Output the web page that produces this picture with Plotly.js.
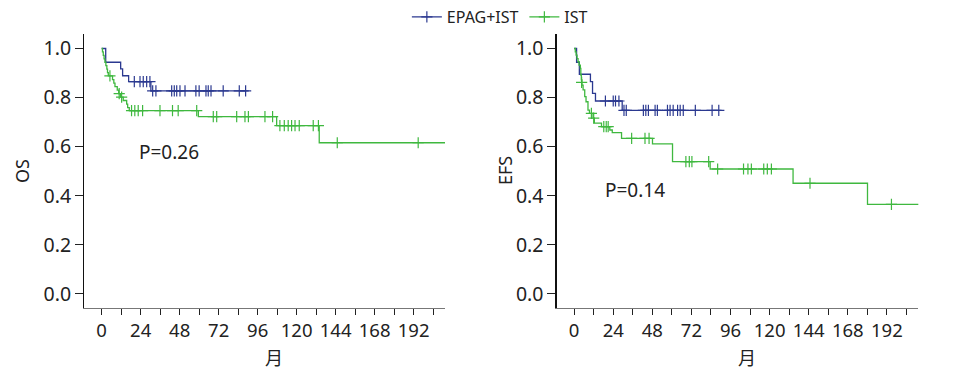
<!DOCTYPE html>
<html>
<head>
<meta charset="utf-8">
<script src="https://cdn.plot.ly/plotly-3.0.1.min.js"></script>
<style>html,body{margin:0;padding:0;background:#fff}#chart{width:963px;height:374px}</style>
</head>
<body>
<div id="chart"></div>
<script>
// ---- OS (left) ----
var osEpagT = [0, 2.5, 11.7, 12.9, 16.6, 30.3, 90.5];
var osEpagS = [1.0, 0.944, 0.917, 0.889, 0.865, 0.827, 0.827];
var osEpagCensT = [20.1, 23.6, 25.6, 27.7, 29.7, 31.4, 33.4, 43.1, 44.7, 46.2, 48.2, 51.3, 58.0, 60.0, 64.2, 65.6, 67.3, 74.8, 84.7, 88.6];
var osEpagCensS = [0.865, 0.865, 0.865, 0.865, 0.865, 0.827, 0.827, 0.827, 0.827, 0.827, 0.827, 0.827, 0.827, 0.827, 0.827, 0.827, 0.827, 0.827, 0.827, 0.827];

var osIstT = [0, 0.5, 1.0, 1.5, 2.0, 2.6, 3.2, 3.6, 4.1, 6.7, 7.5, 8.2, 9.6, 10.5, 11.7, 13.3, 15.4, 16.0, 17.0, 59.5, 107.7, 133.9, 212];
var osIstS = [1.0, 0.986, 0.972, 0.958, 0.944, 0.93, 0.916, 0.902, 0.888, 0.873, 0.859, 0.845, 0.830, 0.816, 0.802, 0.788, 0.773, 0.759, 0.747, 0.722, 0.686, 0.616, 0.616];
var osIstCensT = [5.1, 10.8, 12.3, 18.4, 20.4, 22.5, 25.2, 35.9, 43.6, 47.1, 58.5, 68.7, 70.8, 83.1, 88.2, 90.3, 100.5, 105.2, 109.7, 112.4, 114.8, 116.9, 119.0, 121.6, 130.2, 133.4, 145.0, 194.8];
var osIstCensS = [0.888, 0.816, 0.802, 0.747, 0.747, 0.747, 0.747, 0.747, 0.747, 0.747, 0.747, 0.722, 0.722, 0.722, 0.722, 0.722, 0.722, 0.722, 0.686, 0.686, 0.686, 0.686, 0.686, 0.686, 0.686, 0.686, 0.616, 0.616];

// ---- EFS (right) ----
var efsEpagT = [0, 1.5, 3.2, 10.0, 11.3, 13.1, 29.5, 90.5];
var efsEpagS = [1.0, 0.944, 0.895, 0.865, 0.817, 0.786, 0.748, 0.748];
var efsEpagCensT = [19.2, 24.0, 25.4, 27.5, 30.6, 32.0, 42.5, 44.0, 45.6, 49.7, 51.1, 57.3, 58.9, 60.8, 63.5, 65.1, 67.0, 74.4, 84.7, 88.8];
var efsEpagCensS = [0.786, 0.786, 0.786, 0.786, 0.748, 0.748, 0.748, 0.748, 0.748, 0.748, 0.748, 0.748, 0.748, 0.748, 0.748, 0.748, 0.748, 0.748, 0.748, 0.748];

var efsIstT = [0, 0.7, 1.2, 1.8, 2.4, 3.0, 3.8, 4.1, 4.4, 4.8, 5.5, 6.5, 7.3, 8.5, 9.4, 11.6, 12.4, 16.8, 21.9, 23.4, 29.1, 48.1, 60.4, 83.5, 134.4, 180.1, 212];
var efsIstS = [1.0, 0.986, 0.973, 0.959, 0.946, 0.932, 0.919, 0.892, 0.872, 0.851, 0.831, 0.804, 0.783, 0.749, 0.736, 0.716, 0.696, 0.682, 0.668, 0.657, 0.634, 0.611, 0.539, 0.509, 0.451, 0.365, 0.365];
var efsIstCensT = [4.6, 10.6, 12.0, 18.2, 19.7, 20.9, 35.3, 43.5, 46.0, 68.6, 70.7, 72.3, 82.6, 88.1, 104.0, 106.7, 108.8, 116.4, 118.6, 121.1, 144.8, 194.8];
var efsIstCensS = [0.862, 0.736, 0.716, 0.682, 0.682, 0.682, 0.634, 0.634, 0.634, 0.539, 0.539, 0.539, 0.539, 0.509, 0.509, 0.509, 0.509, 0.509, 0.509, 0.509, 0.451, 0.365];

var groupNames = ['EPAG+IST', 'IST'];
var pLabels = ['P=0.26', 'P=0.14'];
var yTitles = ['OS', 'EFS'];
var xTitle = '月';
var xTickVals = [0, 12, 24, 36, 48, 60, 72, 84, 96, 108, 120, 132, 144, 156, 168, 180, 192, 204];
var xTickText = ['0', '', '24', '', '48', '', '72', '', '96', '', '120', '', '144', '', '168', '', '192', ''];
var yTickVals = [0, 0.2, 0.4, 0.6, 0.8, 1.0];

var BLUE = '#2b3990';
var GREEN = '#3fb83f';
var FONT = 'Noto Sans, "Noto Sans CJK SC", sans-serif';
var FS = 18.5;

function lineTrace(x, y, color, xa, ya) {
  return {x: x, y: y, type: 'scatter', mode: 'lines', line: {shape: 'hv', color: color, width: 1.3},
    showlegend: false, xaxis: xa, yaxis: ya, hoverinfo: 'skip'};
}
function censTrace(x, y, color, xa, ya) {
  return {x: x, y: y, type: 'scatter', mode: 'markers',
    marker: {symbol: 'cross-thin-open', size: 8, color: color, line: {color: color, width: 1.2}},
    showlegend: false, xaxis: xa, yaxis: ya, hoverinfo: 'skip'};
}
function legendTrace(name, color) {
  return {x: [null], y: [null], type: 'scatter', mode: 'lines+markers', name: name, showlegend: true,
    line: {color: color, width: 1.3}, marker: {symbol: 'cross-thin-open', size: 8, color: color, line: {color: color, width: 1.2}},
    xaxis: 'x', yaxis: 'y', hoverinfo: 'skip'};
}

var data = [
  lineTrace(osEpagT, osEpagS, BLUE, 'x', 'y'),
  lineTrace(osIstT, osIstS, GREEN, 'x', 'y'),
  lineTrace(efsEpagT, efsEpagS, BLUE, 'x2', 'y2'),
  lineTrace(efsIstT, efsIstS, GREEN, 'x2', 'y2'),
  censTrace(osEpagCensT, osEpagCensS, BLUE, 'x', 'y'),
  censTrace(osIstCensT, osIstCensS, GREEN, 'x', 'y'),
  censTrace(efsEpagCensT, efsEpagCensS, BLUE, 'x2', 'y2'),
  censTrace(efsIstCensT, efsIstCensS, GREEN, 'x2', 'y2'),
  legendTrace(groupNames[0], BLUE),
  legendTrace(groupNames[1], GREEN)
];

function xAxis(domain, anchor) {
  return {domain: domain, anchor: anchor, range: [-10.7, 211.3], tickmode: 'array', tickvals: xTickVals, ticktext: xTickText,
    ticks: 'outside', ticklen: 6, tickcolor: '#222', tickwidth: 1, showline: true, linecolor: '#777', linewidth: 1.3,
    showgrid: false, zeroline: false, tickfont: {family: FONT, size: FS, color: '#222'}, automargin: false};
}
function yAxis(anchor) {
  return {domain: [0.1773, 0.9091], anchor: anchor, range: [-0.056, 1.059], tickmode: 'array', tickvals: yTickVals,
    tickformat: '.1f', ticks: 'outside', ticklen: 8, tickcolor: '#222', tickwidth: 1, showline: true, linecolor: '#111', linewidth: 1.3,
    showgrid: false, zeroline: false, tickfont: {family: FONT, size: 19.5, color: '#222'}, automargin: false};
}

var layout = {
  width: 963, height: 374, margin: {l: 0, r: 0, t: 0, b: 0},
  paper_bgcolor: '#fff', plot_bgcolor: '#fff',
  font: {family: FONT, color: '#222'},
  xaxis: xAxis([0.0875, 0.4621], 'y'),
  yaxis: yAxis('x'),
  xaxis2: xAxis([0.5781, 0.9536], 'y2'),
  yaxis2: yAxis('x2'),
  showlegend: true,
  legend: {orientation: 'h', x: 0.4225, y: 1.0, xanchor: 'left', yanchor: 'top', font: {family: FONT, size: 16, color: '#222'},
    bgcolor: 'rgba(0,0,0,0)', entrywidth: 72.5, entrywidthmode: 'pixels'},
  annotations: [
    {text: pLabels[0], xref: 'paper', yref: 'paper', x: 137 / 963, y: 1 - 152 / 374, xanchor: 'left', yanchor: 'middle', showarrow: false, font: {family: FONT, size: 19, color: '#222'}},
    {text: pLabels[1], xref: 'paper', yref: 'paper', x: 603 / 963, y: 1 - 190 / 374, xanchor: 'left', yanchor: 'middle', showarrow: false, font: {family: FONT, size: 19, color: '#222'}},
    {text: yTitles[0], xref: 'paper', yref: 'paper', x: 22 / 963, y: 1 - 171 / 374, xanchor: 'center', yanchor: 'middle', textangle: -90, showarrow: false, font: {family: FONT, size: 18, color: '#222'}},
    {text: yTitles[1], xref: 'paper', yref: 'paper', x: 505 / 963, y: 1 - 171 / 374, xanchor: 'center', yanchor: 'middle', textangle: -90, showarrow: false, font: {family: FONT, size: 18, color: '#222'}},
    {text: xTitle, xref: 'paper', yref: 'paper', x: 274 / 963, y: 1 - 358 / 374, xanchor: 'center', yanchor: 'middle', showarrow: false, font: {family: FONT, size: 18, color: '#222'}},
    {text: xTitle, xref: 'paper', yref: 'paper', x: 747 / 963, y: 1 - 358 / 374, xanchor: 'center', yanchor: 'middle', showarrow: false, font: {family: FONT, size: 18, color: '#222'}}
  ]
};

Plotly.newPlot('chart', data, layout, {staticPlot: true, displayModeBar: false});
</script>
</body>
</html>
